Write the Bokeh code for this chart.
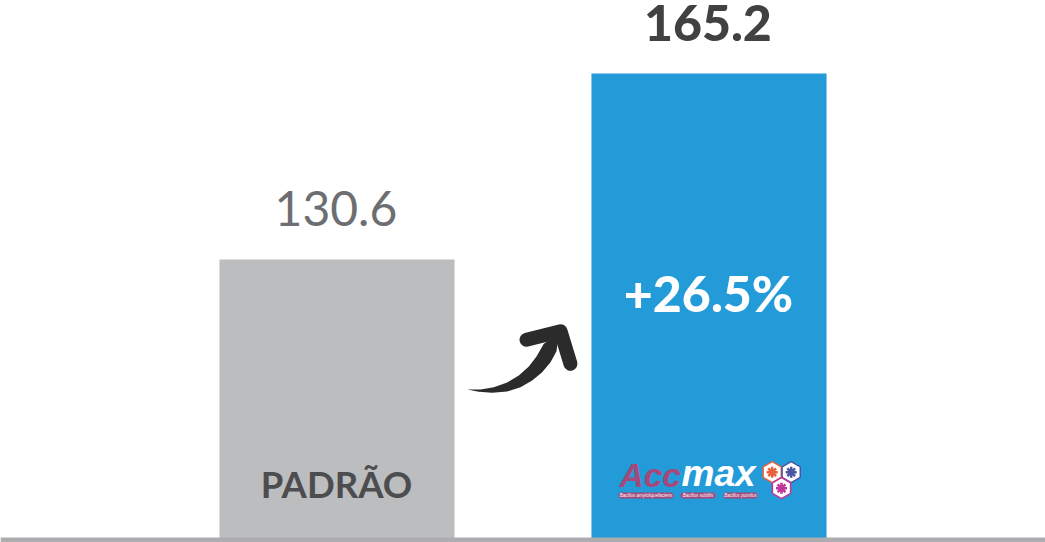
from bokeh.plotting import figure
from bokeh.models import Range1d, Span
from bokeh.core.properties import value
from bokeh.embed import file_html
from bokeh.resources import INLINE

categories = ["PADRÃO", "Accmax"]
values = [130.6, 165.2]
value_labels = ["130.6", "165.2"]
bar_colors = ["#bcbdbf", "#239bd8"]
label_colors = ["#6d6e71", "#414042"]
label_fonts = ["Lato", "Lato Black"]
label_styles = ["normal", "normal"]
label_sizes = ["48px", "50px"]
gain_label = "+26.5%"
species = ["Bacillus amyloliquefaciens", "Bacillus subtilis", "Bacillus pumilus"]

W, H = 1045, 542
FONT = value("Lato")
LOGO = value("Liberation Sans")
xpos = list(range(len(categories)))
Y0 = 77.96

p = figure(width=W, height=H, output_backend="svg", toolbar_location=None,
           x_range=Range1d(-0.9046, 1.9046),
           y_range=Range1d(Y0, 178.78), min_border=0, outline_line_color=None,
           background_fill_color="white", border_fill_color="white")
p.axis.visible = False
p.grid.visible = False
p.extra_x_ranges["px"] = Range1d(0, W)
p.extra_y_ranges["py"] = Range1d(H, 0)
PX = dict(x_range_name="px", y_range_name="py")

def base(y, size):
    # the svg backend draws "alphabetic" text about 0.4em low
    return y - 0.4 * size

p.vbar(x=xpos, top=values, bottom=Y0, width=0.632, fill_color=bar_colors, line_color=None)
for i in xpos:
    p.text(x=[i - 0.003], y=[values[i]], text=[value_labels[i]], text_color=label_colors[i],
           text_font=value(label_fonts[i]), text_font_size=label_sizes[i], text_font_style=label_styles[i],
           text_align="center", text_baseline="alphabetic", y_offset=-51)
p.add_layout(Span(location=539.5, dimension="width", line_color="#adadaf", line_width=5, y_range_name="py"))

# category label and gain
p.text(x=[336], y=[base(498, 36.5)], text=[categories[0]], text_color="#4d4d4f", text_font=FONT,
       text_font_size="36.5px", text_font_style="bold", text_align="center", text_baseline="alphabetic", **PX)
p.text(x=[708], y=[base(312, 50)], text=[gain_label], text_color="white", text_font=value("Lato Black"),
       text_font_size="50px", text_align="center", text_baseline="alphabetic", **PX)

# arrow
def zx(a): return [450 + v / 3 for v in a]
def zy(a): return [310 + v / 3 for v in a]
bx = [50, 90, 130, 170, 205, 235, 258, 280, 325, 318, 300, 275, 245, 210, 170, 125, 85]
by = [237, 237, 230, 216, 195, 168, 138, 100, 70, 122, 155, 185, 210, 230, 243, 247, 244]
p.patch(zx(bx), zy(by), fill_color="#2b2b2b", line_color=None, **PX)
p.line(zx([228, 330, 360]), zy([88, 62, 160]), line_color="#2b2b2b", line_width=14,
       line_cap="round", line_join="round", **PX)

# logo
MAUVE = "#a5487a"
p.text(x=[619], y=[base(488, 33.5)], text=["Acc"], text_color=MAUVE, text_font=LOGO, text_font_size="33.5px",
       text_font_style="bold italic", text_baseline="alphabetic", **PX)
p.text(x=[681], y=[base(488, 37)], text=["max"], text_color="white", text_font=LOGO, text_font_size="37px",
       text_font_style="bold italic", text_baseline="alphabetic", **PX)
px0, px1 = [618, 680, 723], [673, 715, 757]
for a, b, s in zip(px0, px1, species):
    p.line([a + 3, b - 3], [495, 495], line_color=MAUVE, line_width=6, line_cap="round", **PX)
    p.text(x=[(a + b) / 2], y=[495], text=[s], text_color="white", text_font=LOGO,
           text_font_size="4.5px", text_font_style="italic", text_align="center", text_baseline="middle", **PX)
hx, hy = [771.7, 790.7, 781], [471.7, 471.7, 487.7]
hc = ["#e8613c", "#4a55a5", "#c0359a"]
p.scatter(hx, hy, marker="hex", size=21, angle=0.5236, fill_color="white", line_color=hc, line_width=1.5, **PX)
p.scatter(hx, hy, marker="asterisk", size=11, line_color=hc, line_width=2.5, **PX)

open("out.html", "w").write(file_html(p, INLINE))
